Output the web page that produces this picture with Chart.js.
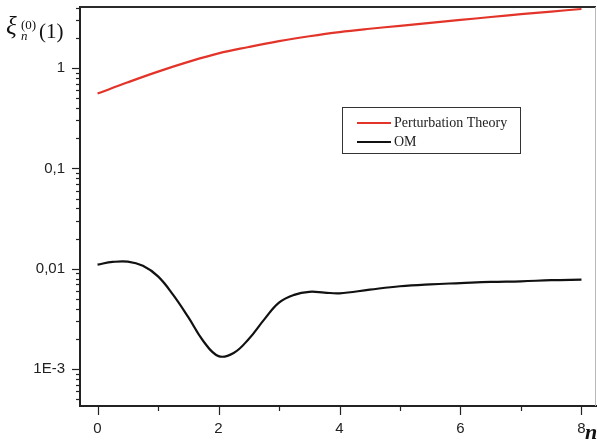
<!DOCTYPE html>
<html>
<head>
<meta charset="utf-8">
<script src="https://cdn.jsdelivr.net/npm/chart.js@4/dist/chart.umd.min.js"></script>
<style>
  html, body { margin: 0; padding: 0; background: #fff; }
  #wrap { position: relative; width: 597px; height: 440px; }
</style>
</head>
<body>
<div id="wrap"><canvas id="chart"></canvas></div>
<script>
// Dados
const nPert = [0, 0.5, 1, 1.5, 2, 2.5, 3, 3.5, 4, 4.5, 5, 5.5, 6, 6.5, 7, 7.5, 8];
const pertValues = [0.556, 0.72, 0.92, 1.15, 1.40, 1.62, 1.85, 2.07, 2.28, 2.46, 2.63, 2.82, 3.01, 3.22, 3.44, 3.65, 3.87];

const nOM = [0, 0.25, 0.5, 0.75, 1, 1.25, 1.5, 1.75, 2, 2.25, 2.5, 2.75, 3, 3.25, 3.5, 3.75, 4, 4.5, 5, 5.5, 6, 6.5, 7, 7.5, 8];
const omValues = [0.0110, 0.0117, 0.0118, 0.0107, 0.0084, 0.0055, 0.0033, 0.0019, 0.00135, 0.00145, 0.0020, 0.0031, 0.0046,
    0.0055, 0.0059, 0.0058, 0.0057, 0.0062, 0.0067, 0.0070, 0.0072, 0.0074, 0.0075, 0.0077, 0.0078];

const seriesLabels = ['Perturbation Theory', 'OM'];
const seriesColors = ['#e3342a', '#111111'];

const xTickValues = [0, 1, 2, 3, 4, 5, 6, 7, 8];
const xTickLabels = ['0', '', '2', '', '4', '', '6', '', '8'];
const yTickValues = [0.001, 0.01, 0.1, 1];
const yTickLabels = ['1E-3', '0,01', '0,1', '1'];

const xMin = -0.29, xMax = 8.24;
const yMin = 4.3e-4, yMax = 4.05;

// Ticks menores da escala log (2..9 de cada década)
function yAllTicks() {
    const out = [];
    for (let e = -4; e <= 0; e++) {
        for (let k = 1; k <= 9; k++) {
            const v = k * Math.pow(10, e);
            if (v >= yMin && v <= yMax) out.push(v);
        }
    }
    return out;
}

function findIdx(list, value) {
    return list.findIndex(v => Math.abs(v - value) < Math.abs(v) * 1e-6 + 1e-12);
}

// Plugin para moldura, ticks, legenda e títulos
const decorPlugin = {
    id: 'decor',
    afterDraw(chart) {
        const ctx = chart.ctx;
        const area = chart.chartArea;
        const xs = chart.scales.x, ys = chart.scales.y;
        ctx.save();

        // moldura superior e direita
        ctx.strokeStyle = '#2a2a2a';
        ctx.lineWidth = 2;
        ctx.beginPath();
        ctx.moveTo(area.left, area.top);
        ctx.lineTo(area.right, area.top);
        ctx.stroke();
        ctx.strokeStyle = '#b8b8b8';
        ctx.lineWidth = 1;
        ctx.beginPath();
        ctx.moveTo(area.right - 0.5, area.top);
        ctx.lineTo(area.right - 0.5, area.bottom);
        ctx.stroke();

        // ticks
        ctx.strokeStyle = '#222';
        ctx.lineWidth = 1.2;
        xs.ticks.forEach(t => {
            const px = Math.round(xs.getPixelForValue(t.value)) + 0.5;
            const len = t.value % 2 === 0 ? 9 : 5;
            ctx.beginPath();
            ctx.moveTo(px, area.bottom);
            ctx.lineTo(px, area.bottom + len);
            ctx.stroke();
        });
        ys.ticks.forEach(t => {
            const py = Math.round(ys.getPixelForValue(t.value)) + 0.5;
            const len = findIdx(yTickValues, t.value) >= 0 ? 8 : 4;
            ctx.beginPath();
            ctx.moveTo(area.left, py);
            ctx.lineTo(area.left - len, py);
            ctx.stroke();
        });

        // legenda
        ctx.strokeStyle = '#333';
        ctx.lineWidth = 1;
        ctx.strokeRect(342.5, 107.5, 178, 46);
        ctx.font = '14px "Liberation Serif", "Times New Roman", serif';
        ctx.textBaseline = 'middle';
        ctx.textAlign = 'left';
        chart.data.datasets.forEach((ds, i) => {
            const y = 123 + i * 19;
            ctx.strokeStyle = ds.borderColor;
            ctx.lineWidth = 2;
            ctx.beginPath();
            ctx.moveTo(357, y);
            ctx.lineTo(391, y);
            ctx.stroke();
            ctx.fillStyle = '#222';
            ctx.fillText(ds.label, 394, y);
        });

        // título do eixo y: ξ_n^(0)(1)
        ctx.fillStyle = '#111';
        ctx.textBaseline = 'alphabetic';
        ctx.font = 'italic 25px "Liberation Serif", serif';
        ctx.fillText('\u03BE', 6, 34);
        ctx.font = '13px "Liberation Serif", serif';
        ctx.fillText('(0)', 21, 29);
        ctx.font = 'italic 13px "Liberation Serif", serif';
        ctx.fillText('n', 21, 40);
        ctx.font = '21px "Liberation Serif", serif';
        ctx.fillText('(1)', 39, 38);

        // título do eixo x
        ctx.font = 'bold italic 22px "Liberation Serif", serif';
        ctx.fillText('n', 585, 439);

        ctx.restore();
    }
};

document.addEventListener('DOMContentLoaded', function () {
    const el = document.getElementById('chart');
    new Chart(el.getContext('2d'), {
        type: 'line',
        data: {
            datasets: [{
                label: seriesLabels[0],
                data: nPert.map((n, i) => ({ x: n, y: pertValues[i] })),
                borderColor: seriesColors[0],
                borderWidth: 2.2,
                pointRadius: 0,
                tension: 0.4
            }, {
                label: seriesLabels[1],
                data: nOM.map((n, i) => ({ x: n, y: omValues[i] })),
                borderColor: seriesColors[1],
                borderWidth: 2.2,
                pointRadius: 0,
                tension: 0.4
            }]
        },
        options: {
            responsive: true,
            maintainAspectRatio: false,
            animation: false,
            layout: { padding: { top: 7, right: 1, bottom: 0, left: 0 } },
            plugins: {
                legend: { display: false },
                tooltip: { enabled: false }
            },
            scales: {
                x: {
                    type: 'linear',
                    min: xMin,
                    max: xMax,
                    afterBuildTicks: scale => {
                        scale.ticks = xTickValues.map(v => ({ value: v }));
                    },
                    afterFit: scale => {
                        scale.height = 34;
                        scale.paddingLeft = 0;
                        scale.paddingRight = 0;
                    },
                    ticks: {
                        autoSkip: false,
                        maxRotation: 0,
                        padding: 6,
                        color: '#222',
                        font: { family: '"Liberation Sans", Arial, sans-serif', size: 15 },
                        callback: value => {
                            const i = findIdx(xTickValues, value);
                            return i >= 0 ? xTickLabels[i] : '';
                        }
                    },
                    grid: { drawOnChartArea: false, drawTicks: true, tickLength: 8, tickColor: 'rgba(0,0,0,0)' },
                    border: { display: true, color: '#222', width: 2 }
                },
                y: {
                    type: 'logarithmic',
                    min: yMin,
                    max: yMax,
                    afterBuildTicks: scale => {
                        scale.ticks = yAllTicks().map(v => ({ value: v }));
                    },
                    afterFit: scale => {
                        scale.width = 80;
                        scale.paddingTop = 0;
                        scale.paddingBottom = 0;
                    },
                    ticks: {
                        autoSkip: false,
                        padding: 7,
                        color: '#222',
                        font: { family: '"Liberation Sans", Arial, sans-serif', size: 15 },
                        callback: value => {
                            const i = findIdx(yTickValues, value);
                            return i >= 0 ? yTickLabels[i] : '';
                        }
                    },
                    grid: { drawOnChartArea: false, drawTicks: true, tickLength: 8, tickColor: 'rgba(0,0,0,0)' },
                    border: { display: true, color: '#222', width: 2 }
                }
            }
        },
        plugins: [decorPlugin]
    });
});
</script>
</body>
</html>
